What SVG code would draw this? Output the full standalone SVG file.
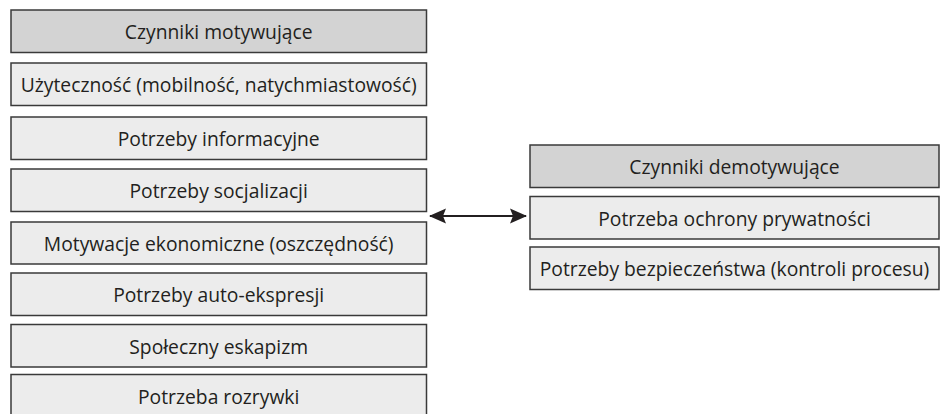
<svg xmlns="http://www.w3.org/2000/svg" width="941" height="414" viewBox="0 0 941 414">
<style>
.box{fill:#ececec;stroke:#3a3a3a;stroke-width:1.5}
.head{fill:#d3d3d3}
text{font-family:"Open Sans","Liberation Sans",sans-serif;font-size:19.3px;fill:#231f20;text-anchor:middle}
</style>
<defs>
<marker id="ah" viewBox="0 0 17 16" refX="16" refY="8" markerWidth="17" markerHeight="16" markerUnits="userSpaceOnUse" orient="auto-start-reverse">
<path d="M0,0.5 L17,8 L0,15.5 L3,8 Z" fill="#231f20"/>
</marker>
</defs>
<rect width="941" height="414" fill="#ffffff"/>
<g id="m0"><rect class="box head" x="11" y="10" width="415.5" height="42.5"/><text x="218.7" y="39">Czynniki motywujące</text></g>
<g id="m1"><rect class="box" x="11" y="63" width="415.5" height="42.5"/><text x="218.7" y="92">Użyteczność (mobilność, natychmiastowość)</text></g>
<g id="m2"><rect class="box" x="11" y="117" width="415.5" height="42.5"/><text x="218.7" y="146">Potrzeby informacyjne</text></g>
<g id="m3"><rect class="box" x="11" y="169" width="415.5" height="42.5"/><text x="218.7" y="198">Potrzeby socjalizacji</text></g>
<g id="m4"><rect class="box" x="11" y="222" width="415.5" height="42"/><text x="218.7" y="251">Motywacje ekonomiczne (oszczędność)</text></g>
<g id="m5"><rect class="box" x="11" y="273" width="415.5" height="42.5"/><text x="218.7" y="302">Potrzeby auto-ekspresji</text></g>
<g id="m6"><rect class="box" x="11" y="324.5" width="415.5" height="42.5"/><text x="218.7" y="353.5">Społeczny eskapizm</text></g>
<g id="m7"><rect class="box" x="11" y="374.5" width="415.5" height="45"/><text x="218.7" y="403.5">Potrzeba rozrywki</text></g>
<g id="d0"><rect class="box head" x="530" y="145" width="409" height="42.5"/><text x="734.5" y="174">Czynniki demotywujące</text></g>
<g id="d1"><rect class="box" x="530" y="196.5" width="409" height="42.5"/><text x="734.5" y="225.5">Potrzeba ochrony prywatności</text></g>
<g id="d2"><rect class="box" x="530" y="247" width="409" height="42.5"/><text x="734.5" y="276">Potrzeby bezpieczeństwa (kontroli procesu)</text></g>
<g id="connectors">
<line x1="430" y1="216" x2="526" y2="216" stroke="#231f20" stroke-width="2.2" marker-start="url(#ah)" marker-end="url(#ah)"/>
</g>
</svg>
